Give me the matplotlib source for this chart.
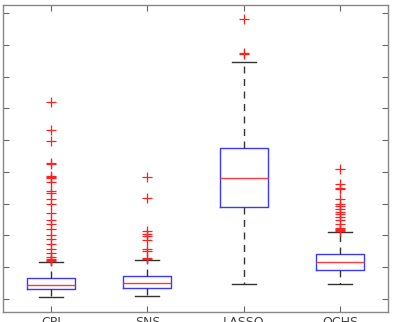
import numpy as np
import matplotlib
matplotlib.use("Agg")
import matplotlib.pyplot as plt

# methods on the x axis
labels = ["CPI", "SNS", "LASSO", "OCHS"]

# box statistics
whislo = [0.06, 0.09, 0.47, 0.47]
q1 = [0.31, 0.35, 2.89, 0.91]
med = [0.44, 0.50, 3.81, 1.16]
q3 = [0.66, 0.72, 4.75, 1.42]
whishi = [1.16, 1.23, 7.45, 2.11]

# outliers
fliers_cpi = [6.19, 5.31, 4.97, 4.28, 4.26, 3.87, 3.85, 3.80, 3.68, 3.40, 3.33,
              3.14, 2.99, 2.70, 2.48, 2.36, 2.20, 2.01, 1.89, 1.73, 1.57, 1.45,
              1.32, 1.26, 1.23, 1.21]
fliers_sns = [3.84, 3.18, 2.14, 2.04, 1.98, 1.86, 1.57, 1.51, 1.29, 1.26]
fliers_lasso = [8.80, 7.74, 7.70]
fliers_ochs = [4.09, 3.62, 3.49, 3.46, 3.14, 2.99, 2.92, 2.83, 2.74, 2.67, 2.58,
               2.48, 2.36, 2.23, 2.20, 2.17, 2.15]
fliers = [fliers_cpi, fliers_sns, fliers_lasso, fliers_ochs]

stats = []
for i in range(len(labels)):
    stats.append(dict(label=labels[i], whislo=whislo[i], q1=q1[i], med=med[i],
                      q3=q3[i], whishi=whishi[i], fliers=fliers[i]))

fig = plt.figure(figsize=(3.96, 3.22), dpi=100)
ax = fig.add_axes([3 / 396, 10 / 322, 385 / 396, 307 / 322])

ax.bxp(stats, positions=[1, 2, 3, 4], widths=0.5, capwidths=0.25,
       boxprops=dict(color="#3a3aff", linewidth=1.0),
       medianprops=dict(color="#ff3a3a", linewidth=1.0),
       whiskerprops=dict(color="#333333", linewidth=1.0, linestyle=(0, (5, 4))),
       capprops=dict(color="#333333", linewidth=1.0),
       flierprops=dict(marker="+", markeredgecolor="#ff2020", markersize=7,
                       markeredgewidth=0.9, linestyle="none"))

ax.set_xlim(0.5, 4.5)
ax.set_ylim(-0.41, 9.25)
ax.set_yticks(np.arange(0, 10))
ax.set_yticklabels([])
ax.tick_params(direction="in", length=4, width=0.8, color="#666666",
               top=True, right=True, labelcolor="#444444", labelsize=9, pad=3)
for s in ax.spines.values():
    s.set_color("#888888")
    s.set_linewidth(1.0)

fig.savefig("out.png", dpi=100)
